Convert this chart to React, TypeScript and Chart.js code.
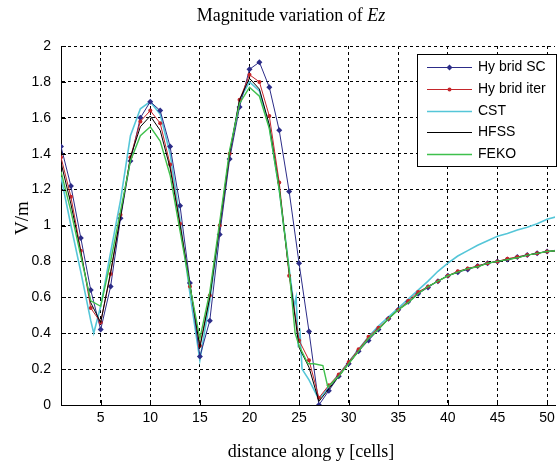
import React, { useEffect, useRef } from "react";
import { Chart, registerables } from "chart.js";
Chart.register(...registerables);

// ---------- data ----------
const cells = [1,2,3,4,5,6,7,8,9,10,11,12,13,14,15,16,17,18,19,20,21,22,23,24,25,26,27,28,29,30,31,32,33,34,35,36,37,38,39,40,41,42,43,44,45,46,47,48,49,50,51];

const hybridSC = [1.44,1.22,0.93,0.64,0.42,0.66,1.04,1.36,1.60,1.69,1.64,1.44,1.11,0.68,0.27,0.47,0.95,1.37,1.66,1.87,1.91,1.77,1.53,1.19,0.79,0.41,0.00,
  0.08,0.16,0.23,0.30,0.36,0.42,0.48,0.53,0.575,0.62,0.655,0.69,0.72,0.74,0.755,0.775,0.79,0.80,0.81,0.825,0.835,0.845,0.855,0.86];

const hybridIter = [1.38,1.16,0.86,0.54,0.46,0.73,1.06,1.38,1.58,1.64,1.57,1.34,1.01,0.66,0.33,0.61,1.00,1.40,1.70,1.84,1.80,1.61,1.24,0.72,0.36,0.25,0.04,
  0.11,0.17,0.24,0.31,0.38,0.43,0.48,0.53,0.58,0.63,0.66,0.69,0.72,0.745,0.76,0.775,0.79,0.80,0.815,0.825,0.835,0.845,0.855,0.86];

const hfss = [1.35,1.12,0.85,0.57,0.46,0.74,1.05,1.38,1.55,1.61,1.53,1.32,1.00,0.67,0.32,0.60,1.00,1.40,1.70,1.82,1.76,1.56,1.21,0.74,0.32,0.21,0.02,
  0.09,0.16,0.23,0.30,0.37,0.42,0.48,0.53,0.57,0.62,0.66,0.69,0.72,0.74,0.76,0.77,0.79,0.80,0.81,0.82,0.835,0.845,0.855,0.86];

const cstCells = [1,2,3,4,4.3,5,6,7,8,9,10,11,12,13,14,15,16,17,18,19,20,21,22,23,24,24.5,24.7,24.9,25.1,25.3,26,27,28,29,30,31,32,33,34,35,36,37,38,39,40,41,42,43,44,45,46,47,48,49,50,51];
const cst = [1.27,1.00,0.74,0.47,0.40,
  0.55,0.85,1.14,1.50,1.65,1.69,1.62,1.40,1.03,0.62,0.25,0.58,0.99,1.40,1.70,1.80,1.75,1.55,1.20,0.76,
  0.55,0.60,0.35,0.40,0.20,
  0.14,0.03,0.10,0.17,0.24,0.31,0.38,0.44,0.49,0.54,0.59,0.64,0.69,0.745,0.79,0.83,0.86,0.89,0.915,0.94,0.955,0.975,0.99,1.01,1.035,1.05];

const fekoCells = [1,2,3,4,5,6,7,8,9,10,11,12,13,14,15,16,17,18,19,20,21,22,23,24,24.6,25,25.9,26.5,27.4,27.9,29,30,31,32,33,34,35,36,37,38,39,40,41,42,43,44,45,46,47,48,49,50,51];
const feko = [1.30,1.08,0.83,0.58,0.55,0.80,1.08,1.36,1.50,1.55,1.47,1.28,0.97,0.66,0.37,0.63,1.02,1.42,1.68,1.77,1.72,1.54,1.20,0.75,
  0.40,0.33,0.23,0.23,0.22,0.10,
  0.16,0.23,0.30,0.37,0.42,0.48,0.53,0.57,0.62,0.66,0.69,0.72,0.74,0.76,0.77,0.79,0.80,0.81,0.82,0.835,0.845,0.855,0.86];

const xTicks = [5,10,15,20,25,30,35,40,45,50];
const yTicks = [0,0.2,0.4,0.6,0.8,1,1.2,1.4,1.6,1.8,2];
const seriesNames = ["Hy brid SC", "Hy brid iter", "CST", "HFSS", "FEKO"];
const seriesColors = ["#2c2c88", "#c4262b", "#55c6d8", "#000000", "#3fc04c"];

const titleText = "Magnitude variation of ";
const titleItalic = "Ez";
const xTitle = "distance along y [cells]";
const yTitle = "V/m";

const SANS = '"Liberation Sans", Arial, sans-serif';
const SERIF = '"Liberation Serif", "Times New Roman", serif';

const pts = (xs: number[], ys: number[]) => xs.map((x, i) => ({ x, y: ys[i] }));

const decorPlugin = {
  id: "decor",
  afterDraw(chart: any) {
    const ctx = chart.ctx as CanvasRenderingContext2D;
    const xs = chart.scales.x;
    const ys = chart.scales.y;
    const area = chart.chartArea;
    ctx.save();
    // inward ticks
    ctx.strokeStyle = "#000";
    ctx.lineWidth = 1;
    ctx.setLineDash([]);
    ctx.beginPath();
    xTicks.forEach((v) => {
      const px = Math.round(xs.getPixelForValue(v)) + 0.5;
      ctx.moveTo(px, area.bottom);
      ctx.lineTo(px, area.bottom - 5);
    });
    yTicks.forEach((v) => {
      const py = Math.round(ys.getPixelForValue(v)) + 0.5;
      ctx.moveTo(area.left, py);
      ctx.lineTo(area.left + 5, py);
    });
    ctx.stroke();

    // x tick labels
    ctx.fillStyle = "#000";
    ctx.font = `14px ${SANS}`;
    ctx.textAlign = "center";
    ctx.textBaseline = "top";
    xTicks.forEach((v) => {
      ctx.fillText(String(v), xs.getPixelForValue(v), area.bottom + 6);
    });

    // title
    ctx.textBaseline = "alphabetic";
    ctx.textAlign = "left";
    ctx.font = `18px ${SERIF}`;
    const w1 = ctx.measureText(titleText).width;
    ctx.font = `italic 18px ${SERIF}`;
    const w2 = ctx.measureText(titleItalic).width;
    const tx = 291 - (w1 + w2) / 2;
    ctx.font = `18px ${SERIF}`;
    ctx.fillText(titleText, tx, 21);
    ctx.font = `italic 18px ${SERIF}`;
    ctx.fillText(titleItalic, tx + w1, 21);

    // x title
    ctx.font = `18px ${SERIF}`;
    ctx.textAlign = "center";
    ctx.fillText(xTitle, 311, 457);

    // y title
    ctx.save();
    ctx.translate(23, 218);
    ctx.rotate(-Math.PI / 2);
    ctx.font = `19px ${SERIF}`;
    ctx.textBaseline = "middle";
    ctx.fillText(yTitle, 0, 0);
    ctx.restore();

    // legend
    const bx = 417.5, by = 54.5, bw = 139, bh = 112;
    ctx.fillStyle = "#fff";
    ctx.fillRect(bx, by, bw, bh);
    ctx.strokeStyle = "#000";
    ctx.strokeRect(bx, by, bw, bh);
    const rows = [67, 89, 111, 132, 154];
    seriesNames.forEach((name, i) => {
      const y = rows[i] + 0.5;
      ctx.strokeStyle = seriesColors[i];
      ctx.lineWidth = i === 2 ? 1.6 : i === 4 ? 1.4 : 1;
      ctx.beginPath();
      ctx.moveTo(427, y);
      ctx.lineTo(472, y);
      ctx.stroke();
      ctx.fillStyle = seriesColors[i];
      if (i === 0) {
        ctx.beginPath();
        ctx.moveTo(449.5, y - 3);
        ctx.lineTo(452.5, y);
        ctx.lineTo(449.5, y + 3);
        ctx.lineTo(446.5, y);
        ctx.closePath();
        ctx.fill();
      } else if (i === 1) {
        ctx.beginPath();
        ctx.arc(449.5, y, 2, 0, Math.PI * 2);
        ctx.fill();
      }
      ctx.fillStyle = "#000";
      ctx.font = `14px ${SANS}`;
      ctx.textAlign = "left";
      ctx.textBaseline = "middle";
      ctx.fillText(name, 478, y);
    });
    ctx.restore();
  },
};

export default function App() {
  const ref = useRef<HTMLCanvasElement>(null);
  useEffect(() => {
    const canvas = ref.current!;
    const tickFont = { family: SANS, size: 14 };
    const chart = new Chart(canvas, {
      type: "line",
      data: {
        datasets: [
          {
            label: seriesNames[0],
            data: pts(cells, hybridSC),
            borderColor: seriesColors[0],
            backgroundColor: seriesColors[0],
            borderWidth: 1,
            pointStyle: "rectRot",
            pointRadius: 3,
            pointBorderWidth: 0,
            tension: 0,
            order: 4,
          },
          {
            label: seriesNames[1],
            data: pts(cells, hybridIter),
            borderColor: seriesColors[1],
            backgroundColor: seriesColors[1],
            borderWidth: 1,
            pointStyle: "circle",
            pointRadius: 2,
            pointBorderWidth: 0,
            tension: 0,
            order: 3,
          },
          {
            label: seriesNames[2],
            data: pts(cstCells, cst),
            borderColor: seriesColors[2],
            borderWidth: 1.6,
            pointRadius: 0,
            tension: 0,
            order: 5,
          },
          {
            label: seriesNames[3],
            data: pts(cells, hfss),
            borderColor: seriesColors[3],
            borderWidth: 1,
            pointRadius: 0,
            tension: 0,
            order: 2,
          },
          {
            label: seriesNames[4],
            data: pts(fekoCells, feko),
            borderColor: seriesColors[4],
            borderWidth: 1.4,
            pointRadius: 0,
            tension: 0,
            order: 1,
          },
        ] as any,
      },
      options: {
        animation: false,
        responsive: false,
        maintainAspectRatio: false,
        events: [],
        layout: { padding: { top: 46, left: 0, right: 0, bottom: 0 } },
        plugins: {
          legend: { display: false },
          title: { display: false },
          tooltip: { enabled: false },
        },
        scales: {
          x: {
            type: "linear",
            min: 1,
            max: 50.8,
            afterBuildTicks: (s: any) => {
              s.ticks = xTicks.map((v) => ({ value: v }));
            },
            afterFit: (s: any) => {
              s.height = 59;
              s.paddingLeft = 0;
              s.paddingRight = 0;
            },
            grid: { color: "#000", lineWidth: 1, drawTicks: false },
            border: { display: true, color: "#000", width: 1, dash: [3, 3] },
            ticks: { display: false },
          },
          y: {
            type: "linear",
            min: 0,
            max: 2,
            afterBuildTicks: (s: any) => {
              s.ticks = yTicks.map((v) => ({ value: v }));
            },
            afterFit: (s: any) => {
              s.width = 61;
            },
            grid: { color: "#000", lineWidth: 1, drawTicks: false },
            border: { display: true, color: "#000", width: 1, dash: [3, 3] },
            ticks: {
              font: tickFont,
              color: "#000",
              padding: 10,
              autoSkip: false,
              callback: (v: any) => String(Math.round(Number(v) * 10) / 10),
            },
          },
        },
      } as any,
      plugins: [decorPlugin],
    });
    return () => chart.destroy();
  }, []);
  return (
    <div style={{ position: "absolute", left: 0, top: 0, width: 559, height: 464, background: "#fff" }}>
      <canvas ref={ref} width={559} height={464} style={{ display: "block", width: 559, height: 464 }} />
    </div>
  );
}
